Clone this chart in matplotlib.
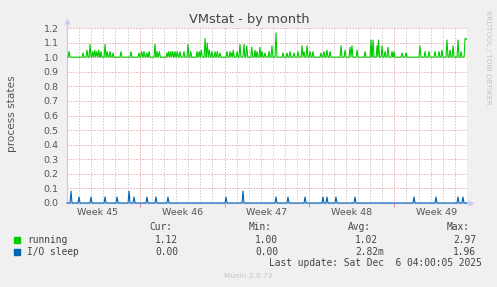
import matplotlib
matplotlib.use("Agg")
import matplotlib.pyplot as plt
from matplotlib.transforms import blended_transform_factory

# ---------------- data (x in days since graph start) -------------
running_spike_days = [
    0.17, 1.32, 1.65, 1.90, 2.12, 2.29, 2.45, 2.62, 2.81, 3.14, 3.32, 3.55, 3.80, 4.46,
    5.28, 5.94, 6.16, 6.35, 6.58, 6.77, 7.26, 7.43, 7.62, 8.25, 8.39, 8.56, 8.72, 8.91,
    9.10, 9.32, 9.65, 9.98, 10.21, 10.73, 10.91, 11.08, 11.39, 11.57, 11.74, 11.96, 12.21,
    12.40, 12.62, 13.20, 13.45, 13.59, 13.72, 14.03, 14.27, 14.60, 14.83, 15.24, 15.51,
    15.68, 15.92, 16.09, 16.34, 16.67, 16.91, 17.24, 17.82, 18.15, 18.40, 18.73, 19.06,
    19.39, 19.55, 19.80, 20.05, 20.30, 20.96, 21.20, 21.45, 21.70, 22.61, 22.94, 23.35,
    23.51, 23.93, 24.59, 25.08, 25.25, 25.58, 25.70, 25.99, 26.24, 26.48, 26.81, 26.98,
    27.64, 27.97, 29.12, 29.54, 29.87, 30.36, 30.69, 30.94, 31.35, 31.60, 31.85, 32.26,
    32.51, 32.84,
]
running_spike_vals = [
    1.04, 1.03, 1.05, 1.09, 1.04, 1.05, 1.04, 1.05, 1.04, 1.09, 1.04, 1.04, 1.03, 1.04,
    1.04, 1.03, 1.04, 1.04, 1.03, 1.04, 1.09, 1.04, 1.04, 1.03, 1.04, 1.04, 1.04, 1.04,
    1.04, 1.04, 1.04, 1.09, 1.04, 1.04, 1.04, 1.05, 1.13, 1.10, 1.05, 1.04, 1.04,
    1.04, 1.03, 1.04, 1.04, 1.03, 1.05, 1.04, 1.09, 1.09, 1.08, 1.07, 1.05,
    1.04, 1.07, 1.04, 1.03, 1.04, 1.08, 1.17, 1.03, 1.03, 1.04, 1.03, 1.04,
    1.08, 1.04, 1.08, 1.04, 1.04, 1.03, 1.04, 1.05, 1.04, 1.08, 1.05, 1.07,
    1.08, 1.05, 1.04, 1.12, 1.12, 1.08, 1.12, 1.08, 1.04, 1.07, 1.04, 1.04,
    1.03, 1.03, 1.08, 1.04, 1.04, 1.04, 1.04, 1.05, 1.12, 1.05, 1.08, 1.12,
    1.04, 1.13,
]
running_base = 1.00
running_end = 1.12

iosleep_spike_days = [
    0.33, 0.99, 1.98, 3.14, 4.13, 5.12, 5.53, 6.60, 7.34, 8.33, 13.12, 14.52, 17.24,
    18.23, 19.64, 21.12, 21.45, 22.19, 23.76, 28.63, 30.44, 32.26, 32.67,
]
iosleep_spike_vals = [
    0.084, 0.043, 0.043, 0.043, 0.043, 0.084, 0.043, 0.043, 0.043, 0.043, 0.043, 0.084,
    0.043, 0.043, 0.043, 0.043, 0.043, 0.043, 0.043, 0.043, 0.043, 0.043, 0.043,
]
iosleep_base = 0.0

week_labels = ["Week 45", "Week 46", "Week 47", "Week 48", "Week 49"]
week_centers = [2.5, 9.5, 16.5, 23.5, 30.5]
week_bounds = [6, 13, 20, 27]
x_span = [0, 33]

legend_names = ["running", "I/O sleep"]
legend_cur = ["1.12", "0.00"]
legend_min = ["1.00", "0.00"]
legend_avg = ["1.02", "2.82m"]
legend_max = ["2.97", "1.96"]

GREEN = "#00CC00"
BLUE = "#0066B3"


def spike_line(days, vals, base, start, end, end_val=None, h=0.08):
    xs, ys = [start], [base]
    n = len(days)
    for i, (d, v) in enumerate(zip(days, vals)):
        prev_d = days[i - 1] if i > 0 else start - 1
        next_d = days[i + 1] if i < n - 1 else end + 1
        left = d - min(h, (d - prev_d) / 2)
        right = d + min(h, (next_d - d) / 2)
        xs += [left, d]
        ys += [base, v]
        if i == n - 1 and end_val is not None:
            xs.append(end)
            ys.append(end_val)
        else:
            xs.append(right)
            ys.append(base)
    if end_val is None:
        xs.append(end)
        ys.append(base)
    return xs, ys


W, H = 497, 287
fig = plt.figure(figsize=(W / 100, H / 100), dpi=100)
fig.patch.set_facecolor("#F0F0F0")

L, R, T, B = 67, 467, 28, 203
ax = fig.add_axes([L / W, (H - B) / H, (R - L) / W, (B - T) / H])
ax.set_facecolor("white")
ax.set_xlim(*x_span)
ax.set_ylim(0, 1.2)
for s in ax.spines.values():
    s.set_visible(False)

dot = (0, (1, 2))
grid_kw = dict(lw=0.72, ls=dot, zorder=1)
# minor day grid
for d in range(1, 33):
    if d in week_bounds:
        continue
    ax.axvline(d, color="#B8B8B8", **grid_kw)
# horizontal grid
for k in range(1, 13):
    ax.axhline(k / 10, color="#E08888", **grid_kw)
# major week grid
for d in week_bounds:
    ax.axvline(d, color="#E08888", **grid_kw)

# series
gx, gy = spike_line(running_spike_days, running_spike_vals, running_base,
                    x_span[0], x_span[1], end_val=running_end)
bx, by = spike_line(iosleep_spike_days, iosleep_spike_vals, iosleep_base,
                    x_span[0], x_span[1])
ax.plot(gx, gy, color=GREEN, lw=0.8, zorder=3, solid_joinstyle="miter")
ax.plot(bx, by, color=BLUE, lw=0.8, zorder=3, clip_on=False, solid_joinstyle="miter")

# axes lines with arrows
axis_col = "#C8C8F0"
ax.plot([0, 0], [0, 1.04], transform=ax.transAxes, color=axis_col, lw=0.9,
        clip_on=False, zorder=2)
ax.plot([0, 1.01], [0, 0], transform=ax.transAxes, color=axis_col, lw=0.9,
        clip_on=False, zorder=2)
ax.plot([0], [1.04], transform=ax.transAxes, marker="^", ms=4, color=axis_col,
        clip_on=False, zorder=2, mec="none")
ax.plot([1.01], [0], transform=ax.transAxes, marker=">", ms=4, color=axis_col,
        clip_on=False, zorder=2, mec="none")

# ticks
ax.set_yticks([k / 10 for k in range(0, 13)])
ax.set_yticklabels([f"{k / 10:.1f}" for k in range(0, 13)])
ax.tick_params(axis="y", length=0, pad=6, labelsize=6.8, labelcolor="#555555")
ax.set_xticks(week_bounds)
ax.set_xticklabels([])
ax.tick_params(axis="x", length=3, width=0.7, color="#E08888", direction="out")
trans = blended_transform_factory(ax.transData, ax.transAxes)
for lab, c in zip(week_labels, week_centers):
    ax.text(c, -0.055, lab, transform=trans, ha="center", va="center",
            fontsize=6.8, color="#555555")

# title & labels
fig.text(249 / W, 1 - 19 / H, "VMstat - by month", ha="center", va="center",
         fontsize=9.4, color="#444444")
fig.text(12 / W, 1 - 114 / H, "process states", rotation=90, ha="center",
         va="center", fontsize=7.6, color="#555555")
fig.text(488 / W, 1 - 57 / H, "RRDTOOL / TOBI OETIKER", rotation=270,
         ha="center", va="center", fontsize=5.3, color="#C4C4C4")

# legend
mono = "DejaVu Sans Mono"
fs = 6.9
tc = "#444444"
def fy(y):
    return 1 - y / H

for x, lab in zip([149, 249, 348, 447], ["Cur:", "Min:", "Avg:", "Max:"]):
    fig.text(x / W, fy(227.5), lab, family=mono, fontsize=fs, color=tc,
             ha="left", va="center")
rows_y = [240, 251.7]
colors = [GREEN, BLUE]
for i in range(2):
    y = rows_y[i]
    fig.patches.append(plt.Rectangle((14 / W, fy(y + 3)), 6 / W, 6 / H,
                                     transform=fig.transFigure, color=colors[i],
                                     figure=fig))
    fig.text(27 / W, fy(y), legend_names[i], family=mono, fontsize=fs, color=tc,
             ha="left", va="center")
    for x, val in zip([155, 255, 355, 453],
                      [legend_cur[i], legend_min[i], legend_avg[i], legend_max[i]]):
        fig.text(x / W, fy(y), val, family=mono, fontsize=fs, color=tc,
                 ha="left", va="center")

fig.text(482 / W, fy(263.3), "Last update: Sat Dec  6 04:00:05 2025", family=mono,
         fontsize=fs, color=tc, ha="right", va="center")
fig.text(248 / W, fy(276), "Munin 2.0.73", fontsize=5.3, color="#C4C4C4",
         ha="center", va="center")

fig.savefig("out.png", dpi=100, facecolor=fig.get_facecolor())
